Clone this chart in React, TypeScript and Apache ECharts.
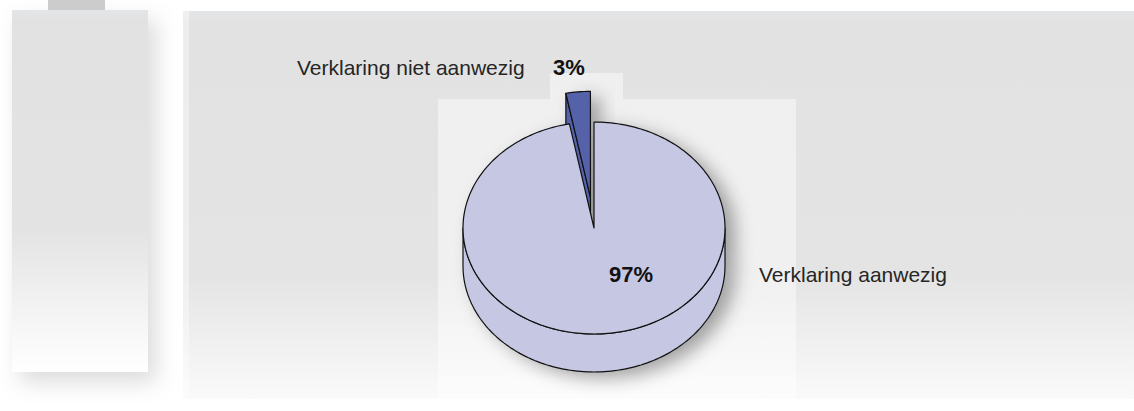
import React, { useEffect, useRef } from 'react';
import * as echarts from 'echarts';

// ---- data ----
const categories: string[] = ['Verklaring aanwezig', 'Verklaring niet aanwezig'];
const values: number[] = [97, 3];

// ---- styles / layout (not data) ----
const sliceColors = ['#c6c7e3', '#5562aa'];
const explodeFrac = [0, 0.29];
const sliceZ = [10, 5];
const pctLabelPos = [[631, 274], [569, 67]];
const nameLabelPos = [[759, 274], [297, 67]];

const CX = 594;
const CY = 228;
const RX = 131;
const RY = 106;
const DEPTH = 38;
const FONT = '"Liberation Sans", Arial, Helvetica, sans-serif';

const total = values.reduce((a, b) => a + b, 0);

function renderItem(params: any, api: any) {
  const i = params.dataIndex;
  const v = api.value(0);
  let before = 0;
  for (let k = 0; k < i; k++) before += values[k];
  const a0 = (before / total) * Math.PI * 2;
  const a1 = ((before + v) / total) * Math.PI * 2;
  const mid = (a0 + a1) / 2;
  const e = explodeFrac[i];
  const cx = CX + e * RX * Math.sin(mid);
  const cy = CY - e * RY * Math.cos(mid);
  const pt = (a: number, dz = 0) => [cx + RX * Math.sin(a), cy - RY * Math.cos(a) + dz];
  const arcPts = (s: number, t: number, dz = 0) => {
    const n = Math.max(4, Math.ceil((t - s) / (Math.PI / 120)));
    const out: number[][] = [];
    for (let j = 0; j <= n; j++) out.push(pt(s + ((t - s) * j) / n, dz));
    return out;
  };
  const color = sliceColors[i];
  const z = sliceZ[i];
  const stroke = { stroke: '#111', lineWidth: 1.2, lineJoin: 'round' };
  const shapes: number[][][] = [];

  // radial faces
  if (Math.sin(a0) < -1e-6) {
    const r = pt(a0);
    shapes.push([[cx, cy], r, [r[0], r[1] + DEPTH], [cx, cy + DEPTH]]);
  }
  if (Math.sin(a1) > 1e-6) {
    const r = pt(a1);
    shapes.push([[cx, cy], r, [r[0], r[1] + DEPTH], [cx, cy + DEPTH]]);
  }
  // outer wall (front half only)
  const s0 = Math.max(a0, Math.PI / 2);
  const s1 = Math.min(a1, (Math.PI * 3) / 2);
  if (s1 > s0) {
    const topArc = arcPts(s0, s1);
    const botArc = arcPts(s0, s1, DEPTH).reverse();
    shapes.push([...topArc, ...botArc]);
  }
  // top face
  const topFace = [[cx, cy], ...arcPts(a0, a1)];

  const children: any[] = [];
  // shadows (under everything)
  [...shapes, topFace].forEach((p) => {
    children.push({
      type: 'polygon',
      z2: 0,
      shape: { points: p },
      style: {
        fill: color,
        shadowBlur: 18,
        shadowOffsetX: 10,
        shadowOffsetY: 6,
        shadowColor: 'rgba(0,0,0,0.35)',
      },
    });
  });
  shapes.forEach((p) => {
    children.push({ type: 'polygon', z2: z, shape: { points: p }, style: { fill: color, ...stroke } });
  });
  children.push({ type: 'polygon', z2: z + 1, shape: { points: topFace }, style: { fill: color, ...stroke } });

  const pct = Math.round((v / total) * 100) + '%';
  children.push({
    type: 'text',
    z2: 30,
    x: pctLabelPos[i][0],
    y: pctLabelPos[i][1],
    style: {
      text: pct,
      fill: '#111',
      font: `bold 22px ${FONT}`,
      align: 'center',
      verticalAlign: 'middle',
    },
  });
  children.push({
    type: 'text',
    z2: 30,
    x: nameLabelPos[i][0],
    y: nameLabelPos[i][1],
    style: {
      text: categories[i],
      fill: '#262626',
      font: `21px ${FONT}`,
      align: 'left',
      verticalAlign: 'middle',
    },
  });
  return { type: 'group', children };
}

export default function App() {
  const ref = useRef<HTMLDivElement>(null);
  useEffect(() => {
    if (!ref.current) return;
    const chart = echarts.init(ref.current, undefined, { renderer: 'svg' });
    const grad = (stops: [number, string][]) =>
      new echarts.graphic.LinearGradient(0, 0, 0, 1, stops.map(([offset, color]) => ({ offset, color })));
    chart.setOption({
      animation: false,
      backgroundColor: '#ffffff',
      graphic: [
        {
          type: 'rect',
          z: 0,
          shape: { x: 12, y: 10, width: 136, height: 362 },
          style: {
            fill: grad([[0, '#e4e5e7'], [0.03, '#e2e2e2'], [0.6, '#e3e3e3'], [1, '#ffffff']]),
            shadowBlur: 22,
            shadowOffsetX: 8,
            shadowOffsetY: 10,
            shadowColor: 'rgba(0,0,0,0.14)',
          },
        },
        { type: 'rect', z: 0, shape: { x: 48, y: 0, width: 57, height: 10 }, style: { fill: '#cccccc' } },
        {
          type: 'rect',
          z: 0,
          shape: { x: 183, y: 11, width: 951, height: 388 },
          style: { fill: grad([[0, '#e4e5e7'], [0.03, '#e2e2e2'], [0.68, '#e4e4e4'], [1, '#fafafa']]) },
        },
        { type: 'rect', z: 0, shape: { x: 183, y: 11, width: 6, height: 388 }, style: { fill: 'rgba(255,255,255,0.4)' } },
        { type: 'rect', z: 0, shape: { x: 438, y: 99, width: 358, height: 312 }, style: { fill: 'rgba(255,255,255,0.45)' } },
        { type: 'rect', z: 0, shape: { x: 550, y: 73, width: 73, height: 26 }, style: { fill: 'rgba(255,255,255,0.45)' } },
      ],
      series: [
        {
          type: 'custom',
          coordinateSystem: 'none',
          renderItem,
          data: values.map((v, i) => ({ name: categories[i], value: [v] })),
        },
      ],
    });
    return () => chart.dispose();
  }, []);
  return <div ref={ref} style={{ position: 'fixed', left: 0, top: 0, width: 1134, height: 411 }} />;
}
